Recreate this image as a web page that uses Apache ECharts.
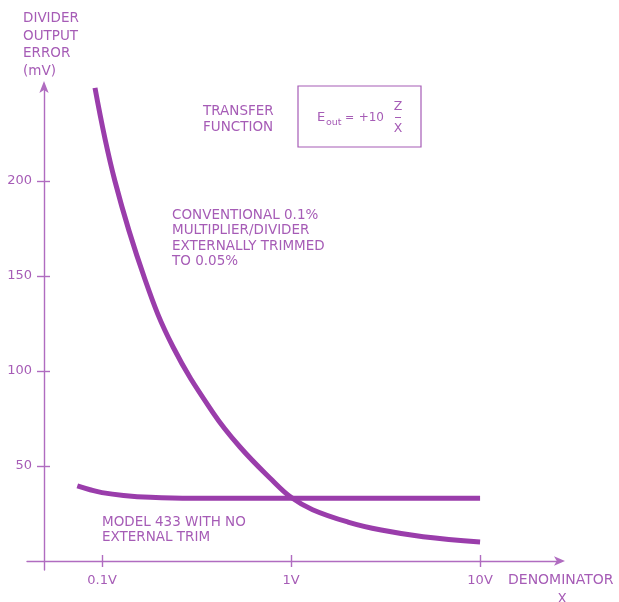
<!DOCTYPE html>
<html>
<head>
<meta charset="utf-8">
<script src="https://cdn.jsdelivr.net/npm/echarts@6/dist/echarts.min.js"></script>
<style>
  html, body { margin: 0; padding: 0; background: #fff; }
  #chart { width: 619px; height: 602px; }
</style>
</head>
<body>
<div id="chart"></div>
<script>
// denominator X (V) and divider output error (mV)
var convX = [0.0918, 0.117, 0.169, 0.238, 0.387, 0.537, 0.793, 1.0, 1.3, 2.0, 3.0, 5.0, 10];
var convY = [249, 200, 148, 112.5, 78, 60, 42.6, 33.5, 27, 20.5, 16.3, 12.8, 10];
var modelX = [0.074, 0.0865, 0.1, 0.13, 0.18, 0.3, 1, 3, 10];
var modelY = [39.5, 37.5, 36, 34.5, 33.5, 33, 33, 33, 33];

var xTicks = [0.1, 1, 10];
var xTickLabels = ["0.1V", "1V", "10V"];
var yTicks = [50, 100, 150, 200];

var lineColor = "#9a3dab";
var axisColor = "#b06cc0";
var textColor = "#a65cb6";
var font = "DejaVu Sans";
var fs = "13.5px ";

function pairs(xs, ys) {
  var out = [];
  for (var i = 0; i < xs.length; i++) out.push([xs[i], ys[i]]);
  return out;
}

var myChart = echarts.init(document.getElementById("chart"));

var xMin = 0.0401, xMax = 26.8;
var yMin = -4.74, yMax = 250;

var xBase = {
  type: "log",
  logBase: 10,
  min: xMin,
  max: xMax,
  position: "bottom",
  offset: -9,
  splitLine: { show: false },
  minorTick: { show: false }
};
var yBase = {
  type: "value",
  min: yMin,
  max: yMax,
  position: "left",
  offset: -17,
  splitLine: { show: false }
};

var option = {
  animation: false,
  grid: { left: 27, right: 58, top: 86, bottom: 32, containLabel: false },
  xAxis: [
    Object.assign({}, xBase, {
      axisLine: {
        show: true,
        onZero: false,
        symbol: ["none", "arrow"],
        symbolSize: [7, 11],
        symbolOffset: [0, 4],
        lineStyle: { color: axisColor, width: 1.4 }
      },
      axisTick: {
        show: true,
        length: 6,
        customValues: xTicks,
        lineStyle: { color: axisColor, width: 1.4 }
      },
      axisLabel: {
        show: true,
        margin: 13,
        customValues: xTicks,
        color: textColor,
        fontFamily: font,
        fontSize: 13,
        formatter: function (v) {
          for (var i = 0; i < xTicks.length; i++) {
            if (Math.abs(v - xTicks[i]) < 1e-6 * xTicks[i]) return xTickLabels[i];
          }
          return "";
        }
      }
    }),
    Object.assign({}, xBase, {
      axisLine: { show: false },
      axisTick: {
        show: true,
        inside: true,
        length: 6,
        customValues: xTicks,
        lineStyle: { color: axisColor, width: 1.4 }
      },
      axisLabel: { show: false }
    })
  ],
  yAxis: [
    Object.assign({}, yBase, {
      axisLine: {
        show: true,
        onZero: false,
        symbol: ["none", "arrow"],
        symbolSize: [7, 12],
        symbolOffset: [0, 5],
        lineStyle: { color: axisColor, width: 1.4 }
      },
      axisTick: {
        show: true,
        length: 7,
        customValues: yTicks,
        lineStyle: { color: axisColor, width: 1.4 }
      },
      axisLabel: {
        show: true,
        margin: 12,
        customValues: yTicks,
        color: textColor,
        fontFamily: font,
        fontSize: 13
      }
    }),
    Object.assign({}, yBase, {
      axisLine: { show: false },
      axisTick: {
        show: true,
        inside: true,
        length: 6,
        customValues: yTicks,
        lineStyle: { color: axisColor, width: 1.4 }
      },
      axisLabel: { show: false }
    })
  ],
  graphic: [
    {
      type: "text", x: 23, y: 10,
      style: {
        text: "DIVIDER\nOUTPUT\nERROR\n(mV)",
        fill: textColor, font: fs + font, lineHeight: 17.5, verticalAlign: "top"
      }
    },
    {
      type: "text", x: 203, y: 103,
      style: {
        text: "TRANSFER\nFUNCTION",
        fill: textColor, font: fs + font, lineHeight: 16.5, verticalAlign: "top"
      }
    },
    {
      type: "rect",
      shape: { x: 298, y: 86, width: 123, height: 61 },
      style: { fill: "none", stroke: textColor, lineWidth: 1.2 }
    },
    { type: "text", x: 317, y: 118, style: { text: "E", fill: textColor, font: "13px " + font, verticalAlign: "middle" } },
    { type: "text", x: 326, y: 123, style: { text: "out", fill: textColor, font: "9.5px " + font, verticalAlign: "middle" } },
    { type: "text", x: 345, y: 118, style: { text: "=", fill: textColor, font: "11px " + font, verticalAlign: "middle" } },
    { type: "text", x: 384, y: 118, style: { text: "+10", fill: textColor, font: "12px " + font, align: "right", verticalAlign: "middle" } },
    { type: "text", x: 398, y: 107, style: { text: "Z", fill: textColor, font: "12.5px " + font, align: "center", verticalAlign: "middle" } },
    {
      type: "line",
      shape: { x1: 395, y1: 117.5, x2: 401, y2: 117.5 },
      style: { stroke: textColor, lineWidth: 1 }
    },
    { type: "text", x: 398, y: 129, style: { text: "X", fill: textColor, font: "12.5px " + font, align: "center", verticalAlign: "middle" } },
    {
      type: "text", x: 172, y: 208,
      style: {
        text: "CONVENTIONAL 0.1%\nMULTIPLIER/DIVIDER\nEXTERNALLY TRIMMED\nTO 0.05%",
        fill: textColor, font: fs + font, lineHeight: 15.3, verticalAlign: "top"
      }
    },
    {
      type: "text", x: 102, y: 515,
      style: {
        text: "MODEL 433 WITH NO\nEXTERNAL TRIM",
        fill: textColor, font: fs + font, lineHeight: 15.3, verticalAlign: "top"
      }
    },
    { type: "text", x: 508, y: 580, style: { text: "DENOMINATOR", fill: textColor, font: "14px " + font, verticalAlign: "middle" } },
    { type: "text", x: 562, y: 599, style: { text: "X", fill: textColor, font: fs + font, align: "center", verticalAlign: "middle" } }
  ],
  series: [
    {
      name: "Conventional",
      type: "line",
      xAxisIndex: 0,
      yAxisIndex: 0,
      smooth: 0.4,
      showSymbol: false,
      clip: false,
      data: pairs(convX, convY),
      lineStyle: { color: lineColor, width: 5 },
      z: 5
    },
    {
      name: "Model 433",
      type: "line",
      xAxisIndex: 0,
      yAxisIndex: 0,
      smooth: 0.4,
      showSymbol: false,
      clip: false,
      data: pairs(modelX, modelY),
      lineStyle: { color: lineColor, width: 5 },
      z: 5
    }
  ]
};
myChart.setOption(option);
</script>
</body>
</html>
